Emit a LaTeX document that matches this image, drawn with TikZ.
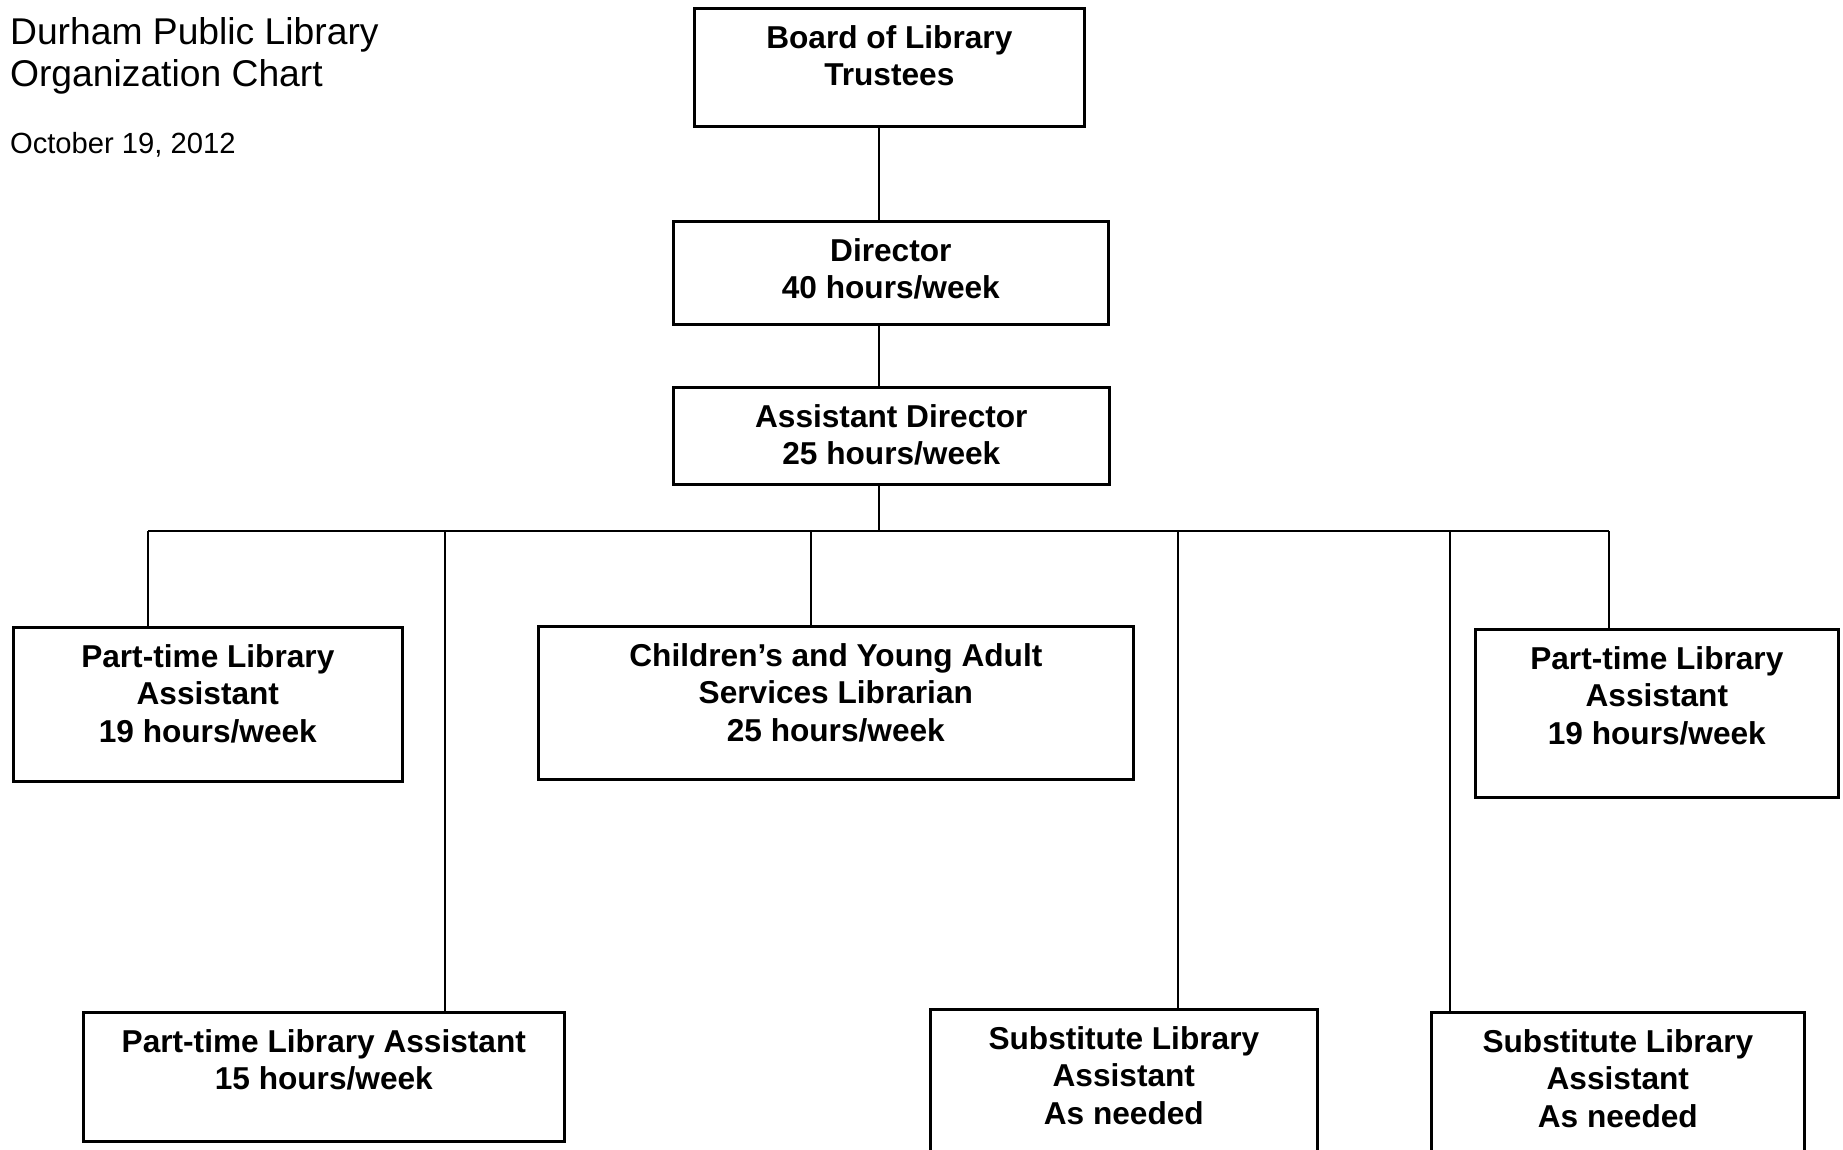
\documentclass[tikz,border=0pt]{standalone}
\usepackage{fontspec}
\setmainfont{Liberation Sans}
\usetikzlibrary{positioning}
\tikzset{
  jobbox/.style={draw=black, line width=0.75pt, inner sep=0pt, anchor=north west},
  jobtext/.style={font=\bfseries\fontsize{9}{10.6}\selectfont, align=center, inner sep=0pt},
  wire/.style={draw=black, line width=0.7pt}
}
\begin{document}
\begin{tikzpicture}
\useasboundingbox (0,0) rectangle (18.43,-11.49);
\node[anchor=west, align=left, inner sep=0pt, font=\fontsize{10.6}{11.9}\selectfont] (head) at (0.094,-0.555) {Durham Public Library\\Organization Chart};
\node[anchor=west, inner sep=0pt, font=\fontsize{8.3}{10}\selectfont] (date) at (0.094,-1.445) {October 19, 2012};

\node[jobbox, minimum width=3.90cm, minimum height=1.18cm] (board) at (6.93,-0.07) {};
\node[jobtext, below=0.18cm of board.north] (board-t) {Board of Library\\Trustees};
\node[jobbox, minimum width=4.35cm, minimum height=1.03cm] (dir) at (6.72,-2.20) {};
\node[jobtext, below=0.18cm of dir.north] (dir-t) {Director\\40 hours/week};
\node[jobbox, minimum width=4.36cm, minimum height=0.97cm] (ad) at (6.72,-3.86) {};
\node[jobtext, below=0.18cm of ad.north] (ad-t) {Assistant Director\\25 hours/week};

\node[jobbox, minimum width=3.89cm, minimum height=1.54cm] (pt1) at (0.12,-6.26) {};
\node[jobtext, below=0.18cm of pt1.north] (pt1-t) {Part-time Library\\Assistant\\19 hours/week};
\node[jobbox, minimum width=5.95cm, minimum height=1.53cm] (cya) at (5.37,-6.25) {};
\node[jobtext, below=0.18cm of cya.north] (cya-t) {Children’s and Young Adult\\Services Librarian\\25 hours/week};
\node[jobbox, minimum width=3.63cm, minimum height=1.68cm] (pt2) at (14.74,-6.28) {};
\node[jobtext, below=0.18cm of pt2.north] (pt2-t) {Part-time Library\\Assistant\\19 hours/week};

\node[jobbox, minimum width=4.81cm, minimum height=1.29cm] (pt3) at (0.82,-10.11) {};
\node[jobtext, below=0.18cm of pt3.north] (pt3-t) {Part-time Library Assistant\\15 hours/week};
\node[jobbox, minimum width=3.87cm, minimum height=1.60cm] (sub1) at (9.29,-10.08) {};
\node[jobtext, below=0.18cm of sub1.north] (sub1-t) {Substitute Library\\Assistant\\As needed};
\node[jobbox, minimum width=3.73cm, minimum height=1.60cm] (sub2) at (14.30,-10.11) {};
\node[jobtext, below=0.18cm of sub2.north] (sub2-t) {Substitute Library\\Assistant\\As needed};

\coordinate (trunk) at (8.79,-5.31);
\coordinate (d1) at (1.48,-5.31);
\coordinate (d2) at (4.45,-5.31);
\coordinate (d3) at (8.11,-5.31);
\coordinate (d4) at (11.78,-5.31);
\coordinate (d5) at (14.50,-5.31);
\coordinate (d6) at (16.09,-5.31);

\draw[wire] (board.south -| trunk) -- (dir.north -| trunk);
\draw[wire] (dir.south -| trunk) -- (ad.north -| trunk);
\draw[wire] (ad.south -| trunk) -- (trunk);
\draw[wire] (d1) -- (d6);
\draw[wire] (d1) -- (d1 |- pt1.north);
\draw[wire] (d2) -- (d2 |- pt3.north);
\draw[wire] (d3) -- (d3 |- cya.north);
\draw[wire] (d4) -- (d4 |- sub1.north);
\draw[wire] (d5) -- (d5 |- sub2.north);
\draw[wire] (d6) -- (d6 |- pt2.north);
\end{tikzpicture}
\end{document}
